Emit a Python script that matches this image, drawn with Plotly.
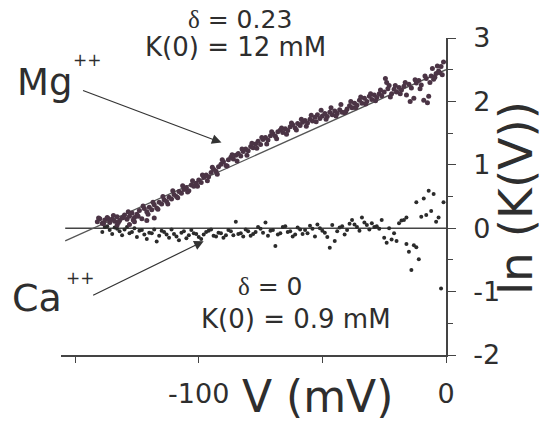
import plotly.graph_objects as go

# ---------------- data ----------------
mg_v = [-141, -140, -139, -138, -137, -136, -135, -134, -133, -133, -132, -131, -130, -129, -128, -128,
        -127, -126, -126, -125, -124, -123, -122, -121, -121, -120, -119, -118, -118, -117, -116, -115,
        -114, -113, -112, -111, -110, -109, -108, -107, -106, -105, -104, -103, -102, -101, -100, -99,
        -98, -97, -96, -95, -94, -93, -92, -91, -90, -89, -88, -87, -86, -85, -84, -83, -82, -81, -80,
        -79, -78, -77, -76, -75, -74, -73, -72, -71, -70, -69, -68, -67, -66, -65, -64, -63, -62, -61,
        -60, -59, -58, -57, -56, -55, -54, -53, -52, -51, -50, -49, -48, -47, -46, -45, -44, -43, -42,
        -41, -40, -39, -38, -37, -36, -35, -34, -33, -32, -31, -30, -29, -28, -27, -26, -25, -24, -23,
        -22, -21, -20, -19, -18, -17, -16, -15, -14, -13, -12, -11, -10, -9, -8, -7, -6, -5, -4, -3,
        -2, -1.5]
mg_lnk = [0.10, 0.15, 0.08, 0.13, 0.17, 0.09, 0.14, 0.11, 0.18, 0.05, 0.12, 0.16, 0.21, 0.14, 0.19, 0.06,
          0.24, 0.17, 0.10, 0.22, 0.28, 0.15, 0.31, 0.26, 0.12, 0.33, 0.29, 0.37, 0.16, 0.32, 0.41, 0.38,
          0.45, 0.42, 0.49, 0.46, 0.53, 0.50, 0.58, 0.55, 0.61, 0.64, 0.59, 0.68, 0.66, 0.71, 0.76, 0.72,
          0.80, 0.84, 0.81, 0.88, 0.93, 0.90, 0.97, 1.01, 1.05, 0.99, 1.08, 1.12, 1.09, 1.15, 1.18, 1.14,
          1.21, 1.25, 1.22, 1.29, 1.27, 1.33, 1.37, 1.32, 1.40, 1.43, 1.39, 1.46, 1.49, 1.45, 1.52, 1.55,
          1.51, 1.57, 1.54, 1.60, 1.63, 1.58, 1.65, 1.62, 1.67, 1.70, 1.66, 1.72, 1.69, 1.75, 1.79, 1.73,
          1.77, 1.81, 1.76, 1.83, 1.79, 1.85, 1.81, 1.87, 1.83, 1.82, 1.88, 1.93, 1.90, 1.97, 1.94, 2.02,
          1.97, 2.05, 2.00, 2.08, 2.03, 2.10, 2.06, 2.12, 2.09, 2.15, 2.30, 2.25, 2.12, 2.19, 2.15, 2.22,
          2.18, 2.24, 2.10, 2.27, 2.21, 2.05, 2.29, 2.33, 2.26, 2.02, 2.36, 2.08, 2.40, 2.35, 2.44, 2.48,
          2.55, 2.42]
# second sweep of Mg points (interleaved in the dense band)
mg_v2 = [-140.5, -138.5, -136.5, -134.5, -132.5, -130.5, -128.5, -126.5, -124.5, -122.5, -120.5,
         -118.5, -116.5, -114.5, -112.5, -110.5, -108.5, -106.5, -104.5, -102.5, -100.5, -98.5, -96.5,
         -94.5, -92.5, -90.5, -88.5, -86.5, -84.5, -82.5, -80.5, -78.5, -76.5, -74.5, -72.5, -70.5,
         -68.5, -66.5, -64.5, -62.5, -60.5, -58.5, -56.5, -54.5, -52.5, -50.5, -48.5, -46.5, -44.5,
         -42.5, -40.5, -38.5, -36.5, -34.5, -32.5, -30.5, -28.5, -26.5, -24.5, -23.5, -22.5, -20.5,
         -18.5, -16.5, -14.5, -12.5, -10.5, -8.5, -7.5, -6.5, -5.5, -4.5, -3.5, -2.5, -1]
mg_lnk2 = [0.16, 0.07, 0.15, 0.20, 0.09, 0.17, 0.26, 0.13, 0.19, 0.35, 0.22, 0.41, 0.30, 0.50, 0.38,
           0.59, 0.48, 0.67, 0.57, 0.75, 0.66, 0.84, 0.75, 0.96, 0.85, 1.08, 0.98, 1.16, 1.06, 1.25,
           1.15, 1.34, 1.26, 1.43, 1.33, 1.52, 1.41, 1.58, 1.48, 1.66, 1.55, 1.72, 1.61, 1.78, 1.68,
           1.86, 1.72, 1.90, 1.77, 1.95, 1.84, 2.00, 1.90, 2.07, 1.96, 2.12, 2.01, 2.18, 2.36, 2.20,
           2.07, 2.25, 2.12, 2.30, 2.00, 2.34, 2.20, 2.40, 1.98, 2.30, 2.52, 2.38, 2.56, 2.45, 2.62]

ca_v = [-138, -136, -134, -132, -130, -128, -126, -124, -122, -120, -118, -116, -114, -112, -110, -108,
        -106, -104, -102, -100, -98, -96, -94, -92, -90, -88, -86, -85, -83, -81, -79, -77, -75, -73,
        -71, -69, -68, -66, -64, -62, -60, -58, -57, -55, -53, -51, -49, -48, -47, -46, -45, -44, -42,
        -41, -39, -38, -36, -35, -34, -32, -31, -30, -28, -27, -26, -25, -24, -23, -22, -21, -20, -18,
        -17, -16, -15, -14, -13, -12, -11, -10, -9, -8, -7, -6, -5, -4, -3, -2, -1]
ca_lnk = [0.02, -0.03, 0.01, -0.05, -0.02, -0.08, 0.00, -0.04, -0.10, -0.07, -0.02, -0.12, -0.06, -0.15,
          -0.09, -0.19, -0.05, -0.11, -0.08, -0.14, -0.10, -0.04, -0.12, -0.07, -0.15, -0.03, -0.11, 0.10,
          -0.08, -0.02, -0.12, -0.06, -0.01, 0.09, -0.04, -0.28, -0.10, 0.02, -0.06, -0.13, 0.01, -0.09,
          -0.03, 0.04, -0.13, 0.00, -0.07, -0.14, -0.31, 0.05, -0.20, -0.05, 0.03, -0.10, 0.07, 0.13, 0.02,
          -0.04, 0.17, 0.05, -0.02, 0.08, 0.03, -0.01, 0.13, -0.15, -0.23, 0.00, -0.18, -0.08, -0.20, 0.12,
          0.13, 0.17, -0.37, -0.66, -0.27, 0.41, -0.49, 0.18, 0.47, 0.21, 0.59, 0.27, 0.54, 0.10, 0.17,
          -0.95, 0.41]
ca_v2 = [-139, -137, -135, -133, -131, -129, -127, -125, -123, -121, -119, -117, -115, -113, -111, -109,
         -107, -105, -103, -101, -99, -97, -95, -93, -91, -89, -87, -84, -82, -80, -78, -76, -74, -72,
         -70, -67, -65, -63, -61, -59, -56, -54, -52, -50, -43, -40, -37, -33, -29, -19, -16, -12]
ca_lnk2 = [-0.06, 0.03, -0.09, -0.01, -0.11, 0.02, -0.06, -0.14, -0.03, -0.17, -0.08, -0.21, -0.04,
           -0.10, -0.02, -0.13, -0.07, -0.16, -0.03, -0.09, -0.17, -0.06, -0.02, -0.13, -0.08, -0.11,
           -0.05, -0.09, -0.13, -0.05, -0.09, 0.02, -0.07, -0.12, -0.03, -0.08, 0.03, -0.05, -0.10,
           -0.02, -0.08, -0.01, 0.06, -0.04, 0.01, -0.03, 0.06, 0.09, 0.02, 0.08, -0.25, -0.30]

fit_v = [-154, 0]
mg_fit = [-0.20, 2.50]   # delta = 0.23, K(0) = 12 mM
ca_fit = [0.0, 0.0]      # delta = 0,    K(0) = 0.9 mM

x_tickvals = [-150, -100, -50, 0]
x_ticktext = ["", "-100", "", "0"]
y_tickvals = [-2, -1, 0, 1, 2, 3]
y_ticktext = ["-2", "-1", "0", "1", "2", "3"]
y_minor = [-1.5, -0.5, 0.5, 1.5, 2.5]

# ---------------- layout helpers (pixel -> paper) ----------------
L, R, T, B = 61, 446, 38, 355
def px(x):
    return (x - L) / (R - L)
def py(y):
    return (B - y) / (B - T)

FONT = "DejaVu Sans"
INK = "#2e2e2e"

fig = go.Figure()
fig.add_trace(go.Scatter(x=fit_v, y=ca_fit, mode="lines",
                         line=dict(color="#444444", width=1.4), showlegend=False))
fig.add_trace(go.Scatter(x=fit_v, y=mg_fit, mode="lines",
                         line=dict(color="#555555", width=1.3), showlegend=False))
fig.add_trace(go.Scatter(x=ca_v + ca_v2, y=ca_lnk + ca_lnk2, mode="markers",
                         marker=dict(color="#2b2b2b", size=4), showlegend=False))
fig.add_trace(go.Scatter(x=mg_v + mg_v2, y=mg_lnk + mg_lnk2, mode="markers",
                         marker=dict(color="#4b3445", size=5), showlegend=False))

ann = []
def text(t, x, y, size, xanchor="center"):
    ann.append(dict(text=t, x=px(x), y=py(y), xref="paper", yref="paper",
                    showarrow=False, xanchor=xanchor, yanchor="middle",
                    font=dict(family=FONT, size=size, color=INK)))

DELTA = '<span style="font-family:Liberation Serif">δ</span>'
text(DELTA + " = 0.23", 240, 20, 25)
text("K(0) = 12 mM", 235, 47, 26)
text(DELTA + " = 0", 270, 286, 25)
text("K(0) = 0.9 mM", 296, 319, 26)
text("Mg", 15, 82, 37, "left")
text("++", 87, 60, 17)
text("Ca", 10, 298, 38, "left")
text("++", 80, 278, 17)
text("V (mV)", 317, 396, 44)
ann.append(dict(text="ln (K(V))", x=px(515), y=py(198), xref="paper", yref="paper",
                showarrow=False, textangle=-90, xanchor="center", yanchor="middle",
                font=dict(family=FONT, size=47, color=INK)))

# arrows (head at x,y ; tail at ax,ay), data coordinates
for hx, hy, tx, ty in [(-90.8, 1.35, -147.4, 2.18), (-98.0, -0.205, -143.3, -1.07)]:
    ann.append(dict(text="", x=hx, y=hy, ax=tx, ay=ty, xref="x", yref="y",
                    axref="x", ayref="y", showarrow=True, arrowhead=2, arrowsize=1.6,
                    arrowwidth=1.2, arrowcolor="#333333", standoff=0))

fig.update_layout(
    width=550, height=425,
    margin=dict(l=L, r=550 - R, t=T, b=425 - B),
    paper_bgcolor="white", plot_bgcolor="white",
    annotations=ann,
    xaxis=dict(range=[-155.7, 0], showgrid=False, zeroline=False, showline=True,
               linecolor="#444444", linewidth=1.6, ticks="outside", ticklen=6, tickwidth=1.4,
               tickcolor="#444444", tickvals=x_tickvals, ticktext=x_ticktext,
               tickfont=dict(family=FONT, size=27, color=INK), ticklabelstandoff=8),
    yaxis=dict(range=[-2, 3], side="right", showgrid=False, zeroline=False, showline=True,
               linecolor="#444444", linewidth=1.6, ticks="outside", ticklen=8, tickwidth=1.4,
               tickcolor="#444444", tickvals=y_tickvals, ticktext=y_ticktext,
               tickfont=dict(family=FONT, size=27, color=INK), ticklabelstandoff=12,
               minor=dict(tickvals=y_minor, ticks="outside", ticklen=5, tickwidth=1.2,
                          tickcolor="#444444")),
)

fig.write_html("out.html")
